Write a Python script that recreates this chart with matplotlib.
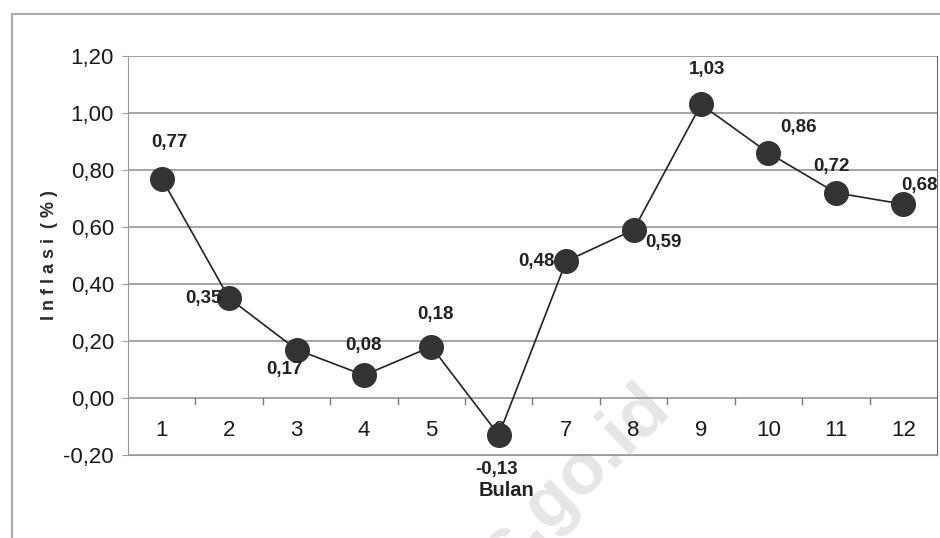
import numpy as np
import matplotlib.pyplot as plt
from matplotlib.patches import Rectangle

# inflasi bulanan (%)
bulan = [1, 2, 3, 4, 5, 6, 7, 8, 9, 10, 11, 12]
inflasi = [0.77, 0.35, 0.17, 0.08, 0.18, -0.13, 0.48, 0.59, 1.03, 0.86, 0.72, 0.68]
label_bulan = ['1', '2', '3', '4', '5', '6', '7', '8', '9', '10', '11', '12']
y_ticks = [-0.20, 0.00, 0.20, 0.40, 0.60, 0.80, 1.00, 1.20]

# posisi label nilai relatif ke titik (dalam piksel)
offset_label = [(8, 36), (-26, 0), (-12, -20), (0, 30), (4, 32), (-2, -34),
                (-30, 0), (30, -13), (6, 35), (30, 25), (-4, 26), (16, 19)]

plt.rcParams['font.family'] = ['Liberation Sans', 'DejaVu Sans']

fig = plt.figure(figsize=(9.4, 5.38), dpi=100)
ax = fig.add_axes([128 / 940, 1 - 455 / 538, (937 - 128) / 940, (455 - 56) / 538])

# bingkai luar
fig.patches.append(Rectangle((12 / 940, -0.1), 1.2, (538 - 14) / 538 + 0.1,
                             transform=fig.transFigure, fill=False,
                             edgecolor='#aaaaaa', lw=1.5, zorder=0))

# watermark
fig.text(672 / 940, 1 - 410 / 538, 'bps.go.id', rotation=44, rotation_mode='anchor',
         ha='right', va='baseline', fontsize=52, fontweight='bold',
         color='#e6e6e6', zorder=-1)

ax.patch.set_alpha(0)
ax.set_xlim(0.5, 12.5)
ax.set_ylim(-0.20, 1.20)
ax.set_yticks(y_ticks)
ax.set_yticklabels([f'{v:.2f}'.replace('.', ',') for v in y_ticks], fontsize=16, color='#1a1a1a')
ax.tick_params(axis='y', length=4, color='#999999', pad=6)
ax.set_xticks([])
for y in y_ticks:
    ax.axhline(y, color='#8c8c8c', lw=1.1, zorder=1)

ax.spines['top'].set_visible(False)
ax.spines['left'].set_color('#999999')
ax.spines['bottom'].set_color('#999999')
ax.spines['right'].set_color('#666666')

# tick kecil di garis nol antar bulan
for xt in np.arange(1.5, 12.5, 1):
    ax.plot([xt, xt], [0, -0.02], color='#777777', lw=1, zorder=2)

# label bulan di bawah garis nol
for x, lab in zip(bulan, label_bulan):
    ax.text(x, -0.115, lab, ha='center', va='center', fontsize=16, color='#1a1a1a', zorder=2)

ax.plot(bulan, inflasi, color='#222222', lw=1.2, marker='o', markersize=17,
        markerfacecolor='#333333', markeredgecolor='#333333', zorder=3)

for x, v, (dx, dy) in zip(bulan, inflasi, offset_label):
    ax.annotate(f'{v:.2f}'.replace('.', ','), (x, v), xytext=(dx * 0.72, dy * 0.72),
                textcoords='offset points', ha='center', va='center',
                fontsize=13.5, fontweight='bold', color='#222222', zorder=4)

fig.text(50 / 940, 1 - 255 / 538, 'I n f l a s i  ( % )', rotation=90, ha='center', va='center',
         fontsize=13, fontweight='bold', color='#2a2a2a')
fig.text(506 / 940, 1 - 490 / 538, 'Bulan', ha='center', va='center',
         fontsize=14.5, fontweight='bold', color='#222222')

fig.savefig('out.png', dpi=100)
